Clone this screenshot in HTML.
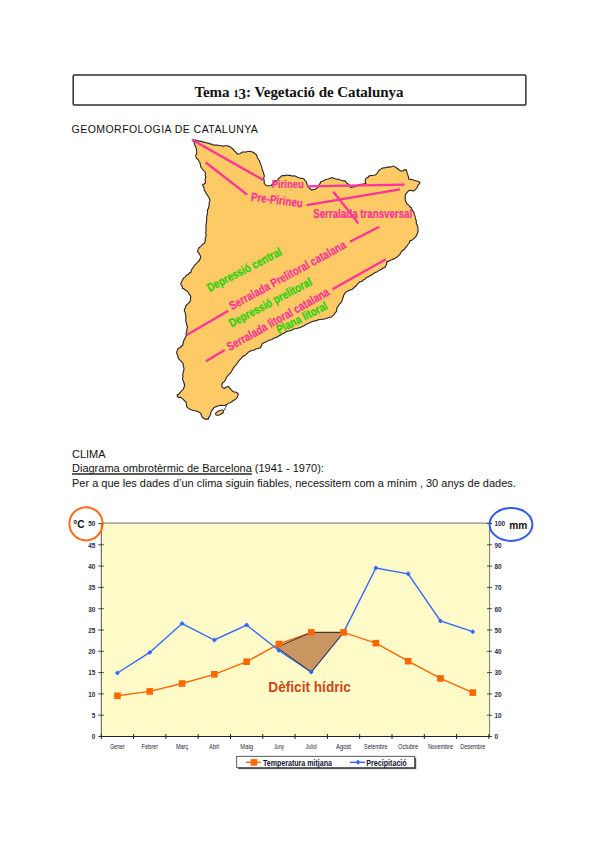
<!DOCTYPE html>
<html><head><meta charset="utf-8">
<style>
html,body{margin:0;padding:0;background:#fff;}
body{width:600px;height:848px;position:relative;overflow:hidden;font-family:"Liberation Sans",sans-serif;color:#000;}
.abs{position:absolute;white-space:nowrap;}
#titlebox{position:absolute;left:72.5px;top:74.5px;width:451.4px;height:28.2px;border:1.5px solid #333;border-radius:1px;}
#title{position:absolute;left:72.4px;top:77.7px;width:453px;text-align:center;font-family:"Liberation Serif",serif;font-weight:bold;font-size:15px;letter-spacing:-0.06px;line-height:29px;color:#111;}
.t{font-size:11px;line-height:14px;color:#111;}
svg text{font-family:"Liberation Sans",sans-serif;}
</style></head>
<body>
<div id="title">Tema <span style="font-size:11px">1</span><span style="position:relative;top:2.7px">3</span>: Vegetació de Catalunya</div>
<div class="abs t" style="left:71.6px;top:121.7px;font-size:10.5px;letter-spacing:0.45px;">GEOMORFOLOGIA DE CATALUNYA</div>
<div class="abs t" style="left:72px;top:447px;">CLIMA</div>
<div class="abs t" style="left:72px;top:461px;"><span style="text-decoration:underline;text-decoration-skip-ink:none;text-underline-offset:1.4px;text-decoration-thickness:2px;text-decoration-color:#5a5a5a;">Diagrama ombrotèrmic de Barcelona</span> (1941 - 1970):</div>
<div class="abs t" style="left:72px;top:476px;">Per a que les dades d’un clima siguin fiables, necessitem com a mínim , 30 anys de dades.</div>
<svg class="abs" style="left:0;top:0" width="600" height="848" viewBox="0 0 600 848">
<rect x="73.2" y="75.1" width="452.7" height="29.9" rx="1" fill="none" stroke="#2e2e2e" stroke-width="1.5"/>
<polygon points="192.50,140.00 194.45,140.11 196.41,140.22 198.30,140.80 199.94,141.36 201.74,141.28 203.32,142.11 205.00,142.50 206.69,142.88 208.43,143.12 209.98,144.01 211.76,144.10 213.30,145.00 214.98,145.14 216.70,145.02 218.37,145.23 220.00,145.80 221.67,145.73 223.33,146.09 225.00,145.80 226.73,145.77 228.38,146.15 230.00,146.70 231.58,148.04 233.30,149.20 234.04,150.71 235.35,151.74 236.52,152.89 237.50,154.20 239.76,153.75 241.70,152.50 243.30,151.83 245.08,152.29 246.70,151.70 248.37,151.51 250.03,151.38 251.70,151.70 253.56,152.51 255.13,153.76 256.70,155.00 257.23,157.20 258.30,159.20 259.41,160.72 260.00,162.50 260.78,164.63 261.70,166.70 261.98,168.38 262.50,170.00 263.18,171.63 263.59,173.35 264.20,175.00 264.23,176.73 263.50,178.30 264.13,179.91 264.23,181.60 264.20,183.30 265.34,184.66 266.70,185.80 268.75,185.73 270.80,185.80 271.90,184.57 273.27,183.63 274.40,182.44 275.52,181.22 277.03,180.44 278.19,179.27 279.12,177.85 280.53,176.96 281.70,175.80 283.37,175.56 285.09,175.60 286.70,175.00 288.33,175.41 290.02,175.21 291.60,176.03 293.30,175.80 295.08,176.04 296.66,176.86 298.30,177.50 300.20,178.29 302.32,178.33 304.20,179.20 305.04,180.56 306.22,181.72 306.70,183.30 307.36,185.06 308.30,186.70 309.83,188.52 311.70,190.00 313.37,189.66 315.00,189.20 316.85,188.22 318.30,186.70 318.98,184.96 320.12,183.45 320.80,181.70 322.31,181.15 323.78,180.52 325.21,179.79 326.70,179.20 328.47,178.92 330.16,178.45 331.70,177.50 333.37,178.04 334.99,178.77 336.70,179.20 338.43,179.13 339.99,180.02 341.65,180.29 343.26,180.92 345.00,180.80 346.44,182.70 348.30,184.20 349.70,185.73 350.80,187.50 352.88,187.00 355.00,186.70 356.72,185.98 358.30,185.00 360.15,184.25 362.14,184.32 364.03,183.73 366.00,183.70 365.31,181.76 365.30,179.70 366.15,178.29 367.74,177.60 368.70,176.30 370.29,175.65 371.96,175.43 373.63,175.23 375.30,175.00 376.91,173.56 378.00,171.70 379.09,170.28 380.64,169.40 382.00,168.30 383.78,167.91 385.62,167.77 387.30,167.00 389.00,167.11 390.68,166.98 392.30,166.28 394.00,166.30 395.38,167.14 396.74,167.99 398.00,169.00 399.47,170.30 401.30,171.00 402.98,170.96 404.35,169.83 406.00,169.70 406.93,171.61 407.30,173.70 408.00,175.41 408.47,177.17 408.70,179.00 410.70,179.34 412.70,179.70 414.68,180.43 416.70,181.00 418.43,181.45 420.00,182.30 419.36,183.92 418.00,185.00 417.42,186.68 416.70,188.30 415.43,189.73 414.00,191.00 412.01,190.59 410.00,190.30 408.41,190.97 407.30,192.30 406.16,193.55 405.30,195.00 405.29,196.77 405.19,198.53 405.30,200.30 406.16,202.37 407.30,204.30 408.89,205.13 409.73,206.84 411.30,207.70 411.98,209.36 412.81,210.94 414.00,212.30 414.17,214.16 414.96,215.88 415.30,217.70 415.74,219.33 416.35,220.93 416.23,222.68 416.70,224.30 417.52,226.01 417.95,227.81 418.00,229.70 418.01,231.39 417.50,233.00 416.70,235.00 415.80,236.59 414.55,237.89 413.30,239.20 411.83,240.36 410.00,240.80 409.55,242.43 408.60,243.76 407.50,245.00 406.72,246.48 405.49,247.58 404.68,249.02 403.30,250.00 401.79,251.23 400.72,252.83 399.79,254.56 398.30,255.80 396.78,257.23 395.00,258.30 393.39,259.13 391.71,259.81 390.00,260.40 388.47,261.37 386.70,261.70 386.70,264.60 385.58,265.89 385.00,267.50 383.15,267.96 381.70,269.20 380.04,270.05 378.36,270.86 376.84,272.01 375.00,272.50 373.52,273.85 371.73,274.72 370.09,275.83 368.30,276.70 366.47,277.55 365.13,279.15 363.30,280.00 361.87,281.46 359.74,281.86 358.30,283.30 357.03,284.53 356.02,286.02 354.52,287.02 353.30,288.30 351.73,289.58 349.76,290.08 348.00,291.00 346.08,292.02 344.70,293.70 343.70,295.22 343.30,297.00 342.48,298.95 342.00,301.00 340.82,302.79 339.30,304.30 338.10,306.37 336.70,308.30 336.80,310.04 336.30,311.70 335.11,312.85 334.30,314.30 332.78,315.63 331.30,317.00 328.93,317.41 326.70,318.30 325.17,318.78 323.62,319.21 322.00,319.30 320.21,319.49 318.46,319.79 316.78,320.36 315.07,320.86 313.35,321.31 311.66,321.83 310.00,322.50 308.51,323.52 306.79,324.09 305.26,325.02 303.79,326.08 302.00,326.50 300.47,327.48 298.73,327.85 297.07,328.45 295.28,328.67 293.53,329.03 292.00,330.00 290.35,330.71 288.52,330.97 286.84,331.59 285.18,332.29 283.71,333.45 282.00,334.00 280.69,335.01 279.26,335.79 277.85,336.60 276.41,337.38 274.80,337.83 273.25,338.40 272.00,339.50 270.00,340.00 268.26,340.53 266.81,341.62 265.14,342.28 263.48,342.96 262.00,344.00 261.33,346.17 260.00,348.00 257.95,348.53 255.88,348.98 254.00,350.00 251.92,350.41 250.00,351.30 248.52,352.12 247.30,353.30 245.99,354.32 244.82,355.53 243.17,356.09 242.00,357.30 241.06,358.73 239.67,359.81 238.49,361.06 237.83,362.72 236.70,364.00 235.77,365.38 234.38,366.41 233.54,367.85 232.70,369.30 231.94,370.83 230.97,372.20 229.95,373.54 228.70,374.70 227.26,376.27 226.20,378.08 225.30,380.00 224.23,381.57 222.70,382.70 221.92,384.42 221.70,386.30 222.68,387.64 224.20,388.30 226.70,387.00 228.30,386.30 230.00,388.30 231.55,390.10 233.30,391.70 235.03,391.97 236.70,392.50 238.30,394.20 237.50,396.70 235.80,399.20 233.88,400.31 232.00,401.50 230.30,402.70 228.30,403.30 226.70,404.60 224.43,405.48 222.00,405.50 219.95,405.33 218.00,406.00 216.05,406.62 214.20,407.50 212.93,409.14 211.70,410.80 210.76,412.34 210.62,414.15 210.00,415.80 208.85,417.35 208.30,419.20 206.65,418.91 205.00,419.20 202.50,417.50 201.41,415.50 200.80,413.30 198.30,411.70 195.30,410.70 193.48,410.45 191.72,409.95 190.00,409.30 188.21,408.18 186.70,406.70 186.43,404.34 186.00,402.00 184.50,400.80 183.30,399.30 181.96,398.36 180.70,397.30 178.94,397.33 177.30,396.70 177.30,394.70 178.87,394.00 180.00,392.70 181.56,390.91 183.30,389.30 183.96,387.29 184.70,385.30 184.10,383.51 183.71,381.64 182.70,380.00 182.63,378.23 183.08,376.47 182.70,374.70 183.13,372.90 183.59,371.11 184.00,369.30 183.79,367.53 183.10,365.82 183.30,364.00 182.26,362.68 181.30,361.30 179.98,360.15 178.76,358.92 178.00,357.30 177.83,355.47 176.85,353.84 176.70,352.00 177.33,350.34 178.00,348.70 179.69,347.73 181.16,346.47 182.70,345.30 182.98,343.50 183.58,341.77 184.00,340.00 184.94,338.37 185.80,336.70 186.35,335.08 186.05,333.30 186.70,331.70 187.02,330.04 187.01,328.33 187.50,326.70 186.74,325.10 186.60,323.29 185.80,321.70 185.81,319.73 185.86,317.77 185.80,315.80 185.49,314.06 185.09,312.35 184.20,310.80 184.68,309.12 185.36,307.50 185.80,305.80 187.20,304.44 188.61,303.07 190.00,301.70 190.44,300.06 190.49,298.36 190.80,296.70 189.99,295.28 189.12,293.91 188.30,292.50 187.08,291.13 185.51,290.25 184.15,289.08 182.50,288.30 182.31,286.51 181.16,285.04 180.80,283.30 181.70,281.67 182.50,280.00 183.30,278.30 185.28,276.94 186.70,275.00 188.23,274.43 189.26,273.05 190.80,272.50 191.33,270.27 192.50,268.30 193.51,267.02 194.31,265.55 195.47,264.40 196.70,263.30 197.68,261.78 199.20,260.80 200.14,258.81 200.80,256.70 199.91,254.89 198.90,253.17 197.50,251.70 198.06,249.48 199.20,247.50 200.58,246.60 201.79,245.51 202.74,244.10 204.20,243.30 204.93,241.73 205.41,240.10 205.15,238.29 205.80,236.70 206.21,235.02 205.71,233.34 205.79,231.66 206.24,229.98 205.80,228.30 206.28,226.67 205.86,224.95 206.28,223.31 206.53,221.66 206.70,220.00 206.72,218.33 206.75,216.65 207.02,215.00 207.54,213.38 207.50,211.70 207.51,209.92 208.40,208.36 208.72,206.66 209.20,205.00 209.04,203.26 209.58,201.64 210.00,200.00 209.27,198.28 208.34,196.66 207.50,195.00 206.17,193.72 205.50,192.00 204.20,190.00 204.05,188.19 203.31,186.58 202.50,185.00 205.00,183.30 205.62,181.70 205.05,179.96 205.39,178.32 205.80,176.70 205.12,175.10 205.51,173.33 205.00,171.70 203.20,170.14 201.70,168.30 200.76,166.77 200.38,165.02 200.17,163.22 199.20,161.70 198.30,159.87 196.75,158.49 195.80,156.70 195.79,154.98 196.77,153.43 196.70,151.70 196.46,150.02 196.28,148.33 195.80,146.70 194.65,144.73 194.20,142.50" fill="#FDCA66" stroke="#24242c" stroke-width="1.1" stroke-linejoin="miter"/>
<polyline points="226.7,404.6 225.6,407.6 224.2,410.4" fill="none" stroke="#24242c" stroke-width="0.9"/>
<ellipse cx="219.6" cy="412.7" rx="4.3" ry="1.9" transform="rotate(-25 219.6 412.7)" fill="#FDCA66" stroke="#24242c" stroke-width="1"/>
<g stroke="#FF3399" stroke-width="2.3" stroke-linecap="butt">
<line x1="192.5" y1="140" x2="263.3" y2="180"/>
<line x1="205.8" y1="162.5" x2="247.2" y2="194.6"/>
<line x1="306.7" y1="186.3" x2="404.7" y2="184.6"/>
<line x1="306.7" y1="205.2" x2="400" y2="189.4"/>
<line x1="333.3" y1="191.7" x2="358.3" y2="223.3"/>
<line x1="350" y1="241.7" x2="379.2" y2="226.7"/>
<line x1="332.5" y1="289.2" x2="385.8" y2="259.2"/>
<line x1="186.7" y1="335" x2="228.3" y2="310.8"/>
<line x1="206" y1="361.3" x2="224.7" y2="350"/>
</g>
<g font-family="Liberation Sans, sans-serif" font-weight="bold">
<text x="271.7" y="187.6" transform="rotate(0.00 271.7 187.6)" textLength="32.0" lengthAdjust="spacingAndGlyphs" fill="#FF3399" stroke="#FF3399" stroke-width="0.22" font-size="11.5">Pirineu</text>
<text x="250.5" y="200.8" transform="rotate(7.26 250.5 200.8)" textLength="52.2" lengthAdjust="spacingAndGlyphs" fill="#FF3399" stroke="#FF3399" stroke-width="0.22" font-size="12">Pre-Pirineu</text>
<text x="313.2" y="218.1" transform="rotate(0.00 313.2 218.1)" textLength="99.0" lengthAdjust="spacingAndGlyphs" fill="#FF3399" stroke="#FF3399" stroke-width="0.22" font-size="12.6">Serralada transversal</text>
<text x="209.5" y="292.0" transform="rotate(-27.09 209.5 292.0)" textLength="82.3" lengthAdjust="spacingAndGlyphs" fill="#22D20E" stroke="#22D20E" stroke-width="0.22" font-size="12">Depressió central</text>
<text x="232.0" y="310.3" transform="rotate(-28.64 232.0 310.3)" textLength="131.0" lengthAdjust="spacingAndGlyphs" fill="#FF3399" stroke="#FF3399" stroke-width="0.22" font-size="12">Serralada Prelitoral catalana</text>
<text x="231.5" y="327.5" transform="rotate(-27.87 231.5 327.5)" textLength="92.0" lengthAdjust="spacingAndGlyphs" fill="#22D20E" stroke="#22D20E" stroke-width="0.22" font-size="12">Depressió prelitoral</text>
<text x="229.5" y="351.3" transform="rotate(-29.36 229.5 351.3)" textLength="115.7" lengthAdjust="spacingAndGlyphs" fill="#FF3399" stroke="#FF3399" stroke-width="0.22" font-size="12">Serralada litoral catalana</text>
<text x="279.0" y="334.0" transform="rotate(-27.30 279.0 334.0)" textLength="55.6" lengthAdjust="spacingAndGlyphs" fill="#22D20E" stroke="#22D20E" stroke-width="0.22" font-size="12">Plana litoral</text>
</g>
<rect x="101.3" y="523.5" width="388.3" height="213.0" fill="#FFFBC8"/>
<line x1="101.3" y1="523.1" x2="489.6" y2="523.1" stroke="#8a8a8a" stroke-width="1.4"/>
<line x1="101.3" y1="523.5" x2="101.3" y2="736.5" stroke="#555" stroke-width="1"/>
<line x1="489.6" y1="523.5" x2="489.6" y2="736.5" stroke="#777" stroke-width="1"/>
<line x1="99.3" y1="736.5" x2="490" y2="736.5" stroke="#222" stroke-width="1.1"/>
<line x1="98.3" y1="736.5" x2="103.8" y2="736.5" stroke="#333" stroke-width="0.9"/>
<line x1="487" y1="736.5" x2="492" y2="736.5" stroke="#333" stroke-width="0.9"/>
<text x="95.3" y="739.3" text-anchor="end" font-size="6.4" font-weight="bold" fill="#2b2b44">0</text>
<text x="494.5" y="739.3" font-size="6.4" font-weight="bold" fill="#2b2b44">0</text>
<line x1="98.3" y1="715.2" x2="103.8" y2="715.2" stroke="#333" stroke-width="0.9"/>
<line x1="487" y1="715.2" x2="492" y2="715.2" stroke="#333" stroke-width="0.9"/>
<text x="95.3" y="718.0" text-anchor="end" font-size="6.4" font-weight="bold" fill="#2b2b44">5</text>
<text x="494.5" y="718.0" font-size="6.4" font-weight="bold" fill="#2b2b44">10</text>
<line x1="98.3" y1="693.9" x2="103.8" y2="693.9" stroke="#333" stroke-width="0.9"/>
<line x1="487" y1="693.9" x2="492" y2="693.9" stroke="#333" stroke-width="0.9"/>
<text x="95.3" y="696.7" text-anchor="end" font-size="6.4" font-weight="bold" fill="#2b2b44">10</text>
<text x="494.5" y="696.7" font-size="6.4" font-weight="bold" fill="#2b2b44">20</text>
<line x1="98.3" y1="672.6" x2="103.8" y2="672.6" stroke="#333" stroke-width="0.9"/>
<line x1="487" y1="672.6" x2="492" y2="672.6" stroke="#333" stroke-width="0.9"/>
<text x="95.3" y="675.4" text-anchor="end" font-size="6.4" font-weight="bold" fill="#2b2b44">15</text>
<text x="494.5" y="675.4" font-size="6.4" font-weight="bold" fill="#2b2b44">30</text>
<line x1="98.3" y1="651.3" x2="103.8" y2="651.3" stroke="#333" stroke-width="0.9"/>
<line x1="487" y1="651.3" x2="492" y2="651.3" stroke="#333" stroke-width="0.9"/>
<text x="95.3" y="654.1" text-anchor="end" font-size="6.4" font-weight="bold" fill="#2b2b44">20</text>
<text x="494.5" y="654.1" font-size="6.4" font-weight="bold" fill="#2b2b44">40</text>
<line x1="98.3" y1="630.0" x2="103.8" y2="630.0" stroke="#333" stroke-width="0.9"/>
<line x1="487" y1="630.0" x2="492" y2="630.0" stroke="#333" stroke-width="0.9"/>
<text x="95.3" y="632.8" text-anchor="end" font-size="6.4" font-weight="bold" fill="#2b2b44">25</text>
<text x="494.5" y="632.8" font-size="6.4" font-weight="bold" fill="#2b2b44">50</text>
<line x1="98.3" y1="608.7" x2="103.8" y2="608.7" stroke="#333" stroke-width="0.9"/>
<line x1="487" y1="608.7" x2="492" y2="608.7" stroke="#333" stroke-width="0.9"/>
<text x="95.3" y="611.5" text-anchor="end" font-size="6.4" font-weight="bold" fill="#2b2b44">30</text>
<text x="494.5" y="611.5" font-size="6.4" font-weight="bold" fill="#2b2b44">60</text>
<line x1="98.3" y1="587.4" x2="103.8" y2="587.4" stroke="#333" stroke-width="0.9"/>
<line x1="487" y1="587.4" x2="492" y2="587.4" stroke="#333" stroke-width="0.9"/>
<text x="95.3" y="590.2" text-anchor="end" font-size="6.4" font-weight="bold" fill="#2b2b44">35</text>
<text x="494.5" y="590.2" font-size="6.4" font-weight="bold" fill="#2b2b44">70</text>
<line x1="98.3" y1="566.1" x2="103.8" y2="566.1" stroke="#333" stroke-width="0.9"/>
<line x1="487" y1="566.1" x2="492" y2="566.1" stroke="#333" stroke-width="0.9"/>
<text x="95.3" y="568.9" text-anchor="end" font-size="6.4" font-weight="bold" fill="#2b2b44">40</text>
<text x="494.5" y="568.9" font-size="6.4" font-weight="bold" fill="#2b2b44">80</text>
<line x1="98.3" y1="544.8" x2="103.8" y2="544.8" stroke="#333" stroke-width="0.9"/>
<line x1="487" y1="544.8" x2="492" y2="544.8" stroke="#333" stroke-width="0.9"/>
<text x="95.3" y="547.6" text-anchor="end" font-size="6.4" font-weight="bold" fill="#2b2b44">45</text>
<text x="494.5" y="547.6" font-size="6.4" font-weight="bold" fill="#2b2b44">90</text>
<line x1="98.3" y1="523.5" x2="103.8" y2="523.5" stroke="#333" stroke-width="0.9"/>
<line x1="487" y1="523.5" x2="492" y2="523.5" stroke="#333" stroke-width="0.9"/>
<text x="95.3" y="526.3" text-anchor="end" font-size="6.4" font-weight="bold" fill="#2b2b44">50</text>
<text x="494.5" y="526.3" font-size="6.4" font-weight="bold" fill="#2b2b44">100</text>
<line x1="101.3" y1="734.0" x2="101.3" y2="739.0" stroke="#222" stroke-width="1"/>
<line x1="133.6" y1="734.0" x2="133.6" y2="739.0" stroke="#222" stroke-width="1"/>
<line x1="165.9" y1="734.0" x2="165.9" y2="739.0" stroke="#222" stroke-width="1"/>
<line x1="198.2" y1="734.0" x2="198.2" y2="739.0" stroke="#222" stroke-width="1"/>
<line x1="230.5" y1="734.0" x2="230.5" y2="739.0" stroke="#222" stroke-width="1"/>
<line x1="262.8" y1="734.0" x2="262.8" y2="739.0" stroke="#222" stroke-width="1"/>
<line x1="295.1" y1="734.0" x2="295.1" y2="739.0" stroke="#222" stroke-width="1"/>
<line x1="327.4" y1="734.0" x2="327.4" y2="739.0" stroke="#222" stroke-width="1"/>
<line x1="359.7" y1="734.0" x2="359.7" y2="739.0" stroke="#222" stroke-width="1"/>
<line x1="392.0" y1="734.0" x2="392.0" y2="739.0" stroke="#222" stroke-width="1"/>
<line x1="424.3" y1="734.0" x2="424.3" y2="739.0" stroke="#222" stroke-width="1"/>
<line x1="456.6" y1="734.0" x2="456.6" y2="739.0" stroke="#222" stroke-width="1"/>
<line x1="488.9" y1="734.0" x2="488.9" y2="739.0" stroke="#222" stroke-width="1"/>
<text x="117.4" y="749.4" text-anchor="middle" font-size="7.2" fill="#22223a" textLength="15" lengthAdjust="spacingAndGlyphs">Gener</text>
<text x="149.8" y="749.4" text-anchor="middle" font-size="7.2" fill="#22223a" textLength="16.5" lengthAdjust="spacingAndGlyphs">Febrer</text>
<text x="182.1" y="749.4" text-anchor="middle" font-size="7.2" fill="#22223a" textLength="12.3" lengthAdjust="spacingAndGlyphs">Març</text>
<text x="214.3" y="749.4" text-anchor="middle" font-size="7.2" fill="#22223a" textLength="10" lengthAdjust="spacingAndGlyphs">Abril</text>
<text x="246.6" y="749.4" text-anchor="middle" font-size="7.2" fill="#22223a" textLength="12.7" lengthAdjust="spacingAndGlyphs">Maig</text>
<text x="278.9" y="749.4" text-anchor="middle" font-size="7.2" fill="#22223a" textLength="10" lengthAdjust="spacingAndGlyphs">Juny</text>
<text x="311.2" y="749.4" text-anchor="middle" font-size="7.2" fill="#22223a" textLength="11.3" lengthAdjust="spacingAndGlyphs">Juliol</text>
<text x="343.5" y="749.4" text-anchor="middle" font-size="7.2" fill="#22223a" textLength="15" lengthAdjust="spacingAndGlyphs">Agost</text>
<text x="375.8" y="749.4" text-anchor="middle" font-size="7.2" fill="#22223a" textLength="23.4" lengthAdjust="spacingAndGlyphs">Setembre</text>
<text x="408.1" y="749.4" text-anchor="middle" font-size="7.2" fill="#22223a" textLength="20" lengthAdjust="spacingAndGlyphs">Octubre</text>
<text x="440.4" y="749.4" text-anchor="middle" font-size="7.2" fill="#22223a" textLength="25" lengthAdjust="spacingAndGlyphs">Novembre</text>
<text x="472.8" y="749.4" text-anchor="middle" font-size="7.2" fill="#22223a" textLength="25" lengthAdjust="spacingAndGlyphs">Desembre</text>
<polyline points="117.45,695.8 149.75,691.4 182.05,683.5 214.35,674.3 246.65,661.7 278.95,644.0 311.25,632.4 343.55,632.4 375.85,643.2 408.15,661.2 440.45,678.4 472.75,692.6" fill="none" stroke="#FF6600" stroke-width="1.4"/>
<polyline points="117.45,673.0 149.75,652.4 182.05,623.6 214.35,640.0 246.65,625.0 278.95,650.5 311.25,672.0 343.55,632.4 375.85,568.0 408.15,573.8 440.45,620.9 472.75,631.7" fill="none" stroke="#3366FF" stroke-width="1.4"/>
<polygon points="276.7,647.3 311.25,632.4 343.55,632.4 311.25,672 " fill="#C99662" stroke="#33303a" stroke-width="1"/>
<polygon points="117.45,670.5 119.95,673.0 117.45,675.5 114.95,673.0" fill="#3366FF"/>
<polygon points="149.75,649.9 152.25,652.4 149.75,654.9 147.25,652.4" fill="#3366FF"/>
<polygon points="182.05,621.1 184.55,623.6 182.05,626.1 179.55,623.6" fill="#3366FF"/>
<polygon points="214.35,637.5 216.85,640.0 214.35,642.5 211.85,640.0" fill="#3366FF"/>
<polygon points="246.65,622.5 249.15,625.0 246.65,627.5 244.15,625.0" fill="#3366FF"/>
<polygon points="278.95,648.0 281.45,650.5 278.95,653.0 276.45,650.5" fill="#3366FF"/>
<polygon points="311.25,669.5 313.75,672.0 311.25,674.5 308.75,672.0" fill="#3366FF"/>
<polygon points="343.55,629.9 346.05,632.4 343.55,634.9 341.05,632.4" fill="#3366FF"/>
<polygon points="375.85,565.5 378.35,568.0 375.85,570.5 373.35,568.0" fill="#3366FF"/>
<polygon points="408.15,571.3 410.65,573.8 408.15,576.3 405.65,573.8" fill="#3366FF"/>
<polygon points="440.45,618.4 442.95,620.9 440.45,623.4 437.95,620.9" fill="#3366FF"/>
<polygon points="472.75,629.2 475.25,631.7 472.75,634.2 470.25,631.7" fill="#3366FF"/>
<rect x="114.15" y="692.50" width="6.6" height="6.6" fill="#FF6600"/>
<rect x="146.45" y="688.10" width="6.6" height="6.6" fill="#FF6600"/>
<rect x="178.75" y="680.20" width="6.6" height="6.6" fill="#FF6600"/>
<rect x="211.05" y="671.00" width="6.6" height="6.6" fill="#FF6600"/>
<rect x="243.35" y="658.40" width="6.6" height="6.6" fill="#FF6600"/>
<rect x="275.65" y="640.70" width="6.6" height="6.6" fill="#FF6600"/>
<rect x="307.95" y="629.10" width="6.6" height="6.6" fill="#FF6600"/>
<rect x="340.25" y="629.10" width="6.6" height="6.6" fill="#FF6600"/>
<rect x="372.55" y="639.90" width="6.6" height="6.6" fill="#FF6600"/>
<rect x="404.85" y="657.90" width="6.6" height="6.6" fill="#FF6600"/>
<rect x="437.15" y="675.10" width="6.6" height="6.6" fill="#FF6600"/>
<rect x="469.45" y="689.30" width="6.6" height="6.6" fill="#FF6600"/>
<text x="268.3" y="691.8" font-size="14" font-weight="bold" fill="#CB4518" textLength="82.6" lengthAdjust="spacingAndGlyphs">Dèficit hídric</text>
<circle cx="86" cy="523.8" r="16.6" fill="none" stroke="#FF6A1A" stroke-width="2"/>
<ellipse cx="511" cy="524.4" rx="21.4" ry="16.5" fill="none" stroke="#2F5BEA" stroke-width="2"/>
<text x="73.3" y="527.6" font-size="10" font-weight="bold" fill="#111" textLength="11.4" lengthAdjust="spacingAndGlyphs">°C</text>
<text x="509.3" y="528.6" font-size="11.5" font-weight="bold" fill="#111" textLength="18" lengthAdjust="spacingAndGlyphs">mm</text>
<rect x="238.2" y="757.7" width="178" height="11.4" fill="#555"/>
<rect x="236.7" y="756.3" width="178" height="11.4" fill="#fff" stroke="#333" stroke-width="0.8"/>
<line x1="245.8" y1="762.3" x2="260.8" y2="762.3" stroke="#FF6600" stroke-width="1.4"/>
<rect x="250.6" y="759.1" width="6.6" height="6.6" fill="#FF6600"/>
<text x="263" y="765.8" font-size="8.3" font-weight="bold" fill="#111133" textLength="69" lengthAdjust="spacingAndGlyphs">Temperatura mitjana</text>
<line x1="350" y1="762.3" x2="365" y2="762.3" stroke="#3366FF" stroke-width="1.4"/>
<polygon points="358,759.8 360.5,762.3 358,764.8 355.5,762.3" fill="#3366FF"/>
<text x="366.3" y="765.8" font-size="8.3" font-weight="bold" fill="#111133" textLength="40.4" lengthAdjust="spacingAndGlyphs">Precipitació</text>
</svg>
</body></html>
